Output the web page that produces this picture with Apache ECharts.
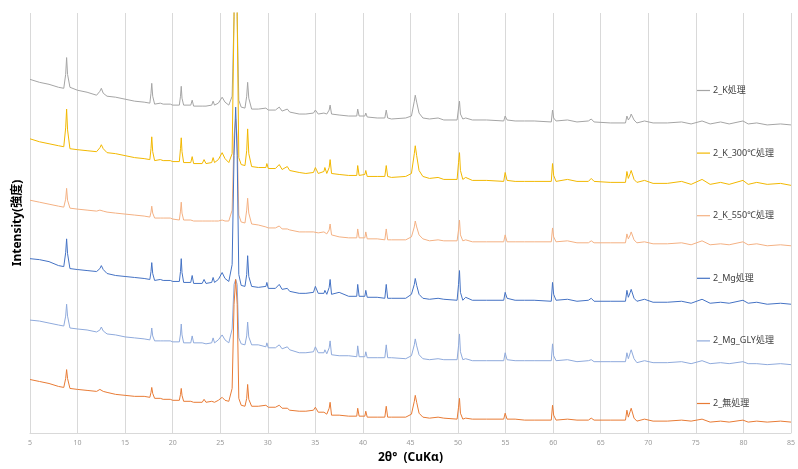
<!DOCTYPE html>
<html>
<head>
<meta charset="utf-8">
<script src="https://cdn.jsdelivr.net/npm/echarts@6/dist/echarts.min.js"></script>
<style>html,body{margin:0;padding:0;background:#fff}#c{width:798px;height:469px}</style>
</head>
<body>
<div id="c"></div>
<script>
// 2θ positions (degrees) shared by all patterns
var twoTheta = [5,6,7,8,8.55,8.75,8.85,8.95,9.2,10,11,12.0,12.35,12.5,12.7,13.1,14,15,16,17,17.6,17.72,17.8,17.9,18.1,18.7,18.85,19.0,19.75,19.85,20.0,20.7,20.82,20.9,20.98,21.15,21.9,22.05,22.2,23.1,23.3,23.5,24.1,24.25,24.4,24.8,25.2,25.5,25.9,26.25,26.45,26.62,26.78,26.95,27.2,27.6,27.78,27.88,28.0,28.3,29.0,29.8,29.9,30.05,30.8,31.2,31.5,32.05,32.3,33.3,34.0,34.8,35.0,35.3,35.9,36.0,36.2,36.45,36.55,36.7,37.5,38.5,39.35,39.45,39.6,40.2,40.3,40.45,41.5,42.3,42.45,42.6,43.0,44.5,45.1,45.4,45.5,45.65,45.9,46.3,47.0,47.9,48.5,49.9,50.05,50.15,50.25,50.5,50.8,51.5,53,54.8,54.95,55.15,56,57,58,59.8,59.93,60.05,60.3,61.5,62.5,63.7,64.0,64.3,66,67.6,67.75,67.9,68.1,68.2,68.35,68.5,68.8,69.6,70.5,72,73.5,74.5,75.65,76.5,77.6,78.5,79.95,80.5,81.4,82.5,83.9,85];

var seriesNames = ['2_K処理','2_K_300℃処理','2_K_550℃処理','2_Mg処理','2_Mg_GLY処理','2_無処理'];

var intK = [357,354,352,349,348,362,379,362,349,346,344,341,345,348,343,340,339,337,335,334,333,343,353,340,332,333,335,332,332,334,331,331,340,350,338,331,331,336,330,330,331,330,331,335,331,333,339,334,331,340,420,760,420,336,329,328,340,354,338,327,327,328,330,326,326,329,325,327,324,322,322,323,326,322,323,325,322,326,331,322,321,320,320,327,320,320,323,319,318,318,326,318,317,318,320,335,341,334,323,318,317,318,316,316,328,335,322,317,318,316,316,315,320,316,315,315,315,314,326,318,315,316,314,315,317,314,313,313,320,316,319,322,321,316,313,315,313,313,314,312,315,312,314,312,315,312,313,311,312,311];

var intK300 = [297,294,292,290,289,308,327,306,287,286,285,284,288,291,287,283,282,280,278,277,276,287,299,284,275,276,278,275,275,276,274,274,287,298,284,273,273,279,272,272,276,272,273,278,273,276,283,277,273,282,420,800,420,278,271,270,285,307,282,269,268,268,272,267,267,271,266,269,265,263,262,263,268,262,264,268,262,268,276,262,261,260,260,270,260,261,265,259,259,259,270,259,258,259,262,282,290,280,265,259,257,258,256,256,273,283,265,256,258,255,255,254,263,255,254,254,254,254,272,260,254,256,254,254,257,254,253,253,264,257,262,265,264,256,253,255,252,252,254,251,256,251,253,251,255,251,253,251,252,250];

var intK550 = [235,233,231,229,228,236,247,235,227,226,225,224,225,226,224,223,222,221,220,219,218,223,229,222,217,217,218,217,217,219,216,215,224,233,222,215,215,217,214,214,215,214,214,216,214,214,215,214,214,225,300,317,300,220,213,212,225,237,222,211,210,208,209,207,207,209,206,206,205,203,203,203,205,202,203,204,201,205,211,200,198,197,197,206,197,197,203,196,196,195,206,195,195,195,198,208,214,208,200,196,194,195,194,194,205,215,200,194,195,193,193,193,200,193,193,193,193,193,207,198,193,194,192,192,194,192,192,192,201,196,200,203,202,195,192,193,191,191,192,190,194,190,191,190,193,190,191,189,190,189];

var intMg = [176,175,173,169,168,182,196,181,166,165,164,163,166,169,165,161,159,158,157,156,155,163,172,161,154,155,156,154,154,156,153,153,163,176,162,152,152,159,151,151,155,151,152,157,152,155,162,156,153,170,280,329,280,160,149,148,160,179,158,148,147,148,152,146,146,150,145,146,143,141,141,142,148,141,141,144,140,147,155,140,142,138,138,150,138,138,144,137,137,136,150,136,136,136,140,150,156,149,140,136,135,136,135,134,150,164,142,134,137,134,134,134,142,136,134,134,134,133,152,140,134,135,133,134,136,133,133,133,144,137,142,145,144,136,133,135,132,132,133,131,135,131,132,131,134,131,132,130,131,130];

var intMgGLY = [114,113,111,109,108,118,130,118,106,105,104,102,104,107,103,100,99,97,96,95,94,99,106,98,93,93,94,93,93,95,92,92,100,110,99,91,91,98,91,91,93,90,91,96,91,94,99,94,91,105,150,155,150,96,90,89,98,112,97,89,89,87,91,86,86,89,85,87,84,81,81,82,87,81,81,84,80,86,93,79,78,78,77,88,77,77,82,76,76,76,89,76,76,75,78,89,95,88,79,75,74,75,74,74,88,100,82,74,75,73,73,73,81,74,73,73,73,73,90,78,73,74,72,73,74,72,72,72,81,75,81,84,83,75,71,73,71,71,72,70,73,70,71,70,72,70,70,69,70,69];

var intNone = [54,52,50,47,46,55,64,55,45,44,43,42,44,46,42,41,39,38,37,37,36,41,46,40,35,35,35,34,34,35,33,33,39,45,38,32,32,34,31,31,34,31,32,34,31,33,36,33,32,45,130,155,130,35,28,27,35,49,34,27,27,28,30,26,26,28,25,25,23,22,22,23,26,21,21,22,19,25,31,18,18,17,17,25,17,17,22,16,16,16,27,16,16,16,19,32,38,31,20,16,15,16,15,14,26,35,20,14,15,14,14,14,20,14,14,13,13,13,28,18,13,14,13,13,15,13,13,13,23,16,22,25,24,15,12,14,12,12,13,12,14,11,12,11,13,11,12,11,12,11];

var xTicks = [5,10,15,20,25,30,35,40,45,50,55,60,65,70,75,80,85];

var colors = ['#A5A5A5','#F2B800','#F4B183','#4472C4','#8FAADC','#E87B35'];
var allInt = [intK,intK300,intK550,intMg,intMgGLY,intNone];

function pairs(arr){ return twoTheta.map(function(t,i){ return [t, arr[i]]; }); }

var FONT = "'Noto Sans','Noto Sans CJK JP',sans-serif";
var chart = echarts.init(document.getElementById('c'), null, {renderer:'canvas'});
chart.setOption({
  animation:false,
  color: colors,
  textStyle:{fontFamily:FONT},
  grid:{left:30,right:5,top:13,bottom:32,containLabel:false},
  legend:{
    orient:'vertical', left:692, top:81, itemGap:53.6, itemWidth:13, itemHeight:1.2,
    icon:'rect',
    data: seriesNames,
    textStyle:{fontSize:9, color:'#404040', fontFamily:FONT, padding:[0,0,0,-2]}
  },
  xAxis:{
    type:'value', min:xTicks[0], max:xTicks[xTicks.length-1], interval:5,
    name:'2θ°  (CuKα)', nameLocation:'middle', nameGap:19,
    nameTextStyle:{fontSize:12, fontWeight:'bold', color:'#000', fontFamily:FONT},
    axisLine:{show:true, lineStyle:{color:'#D9D9D9', width:1}},
    axisTick:{show:false},
    axisLabel:{fontSize:7, color:'#999', margin:7, fontFamily:FONT},
    splitLine:{show:true, lineStyle:{color:'#D9D9D9', width:1}}
  },
  yAxis:{
    type:'value', min:0, max:424,
    name:'Intensity(強度)', nameLocation:'middle', nameGap:6,
    nameTextStyle:{fontSize:12, fontWeight:'bold', color:'#000', fontFamily:FONT},
    axisLine:{show:false}, axisTick:{show:false}, axisLabel:{show:false}, splitLine:{show:false}
  },
  series: seriesNames.map(function(n,i){
    return {
      name:n, type:'line', data:pairs(allInt[i]), symbol:'none', showSymbol:false,
      lineStyle:{width:1, color:colors[i]}, itemStyle:{color:colors[i]},
      clip:true, z:2+i
    };
  })
});
</script>
</body>
</html>
